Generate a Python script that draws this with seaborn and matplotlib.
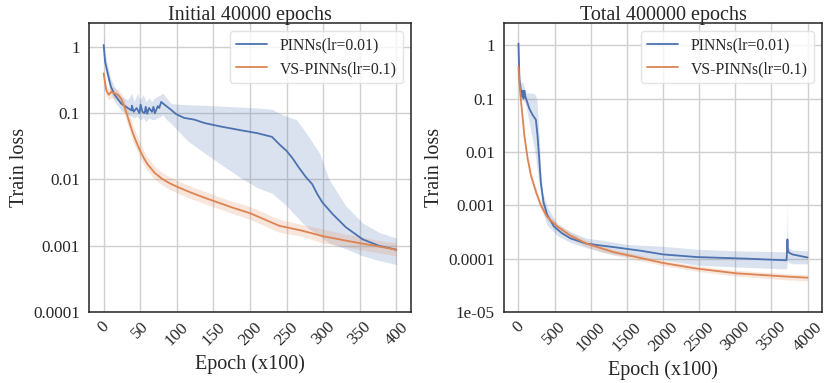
import numpy as np
import pandas as pd
import matplotlib
matplotlib.use("Agg")
import matplotlib.pyplot as plt
import seaborn as sns

# ---------------- data ----------------
titles = ["Initial 40000 epochs", "Total 400000 epochs"]
series_names = ["PINNs(lr=0.01)", "VS-PINNs(lr=0.1)"]

# Left panel (epoch x100, 0..400)
l_pinn_x = [0, 2, 6, 10, 15, 24, 33, 38, 38.6, 41, 45, 49, 50.5, 53, 56, 57.5, 59.5, 62, 66, 68, 70,
            74, 76, 78.6, 83, 92, 99, 110, 124, 138, 160, 185, 210, 230, 240, 250, 258, 267, 276,
            285, 292, 299, 313, 331, 354, 376, 400]
l_pinn_y = [1.07, 0.6, 0.38, 0.25, 0.19, 0.14, 0.12, 0.11, 0.13, 0.105, 0.12, 0.1, 0.135, 0.105, 0.1,
            0.125, 0.098, 0.12, 0.105, 0.125, 0.1, 0.128, 0.12, 0.148, 0.135, 0.113, 0.097, 0.085,
            0.08, 0.071, 0.063, 0.056, 0.05, 0.044, 0.034, 0.027, 0.021, 0.015, 0.011, 0.0085,
            0.006, 0.0045, 0.003, 0.0019, 0.00125, 0.001, 0.00087]
l_pinn_bx = [0, 2, 6, 10, 15, 24, 33, 38, 42, 46, 50, 54, 58, 62, 66, 70, 74, 78, 81, 86, 92, 101,
             115, 138, 160, 185, 210, 230, 240, 250, 263, 272, 281, 295, 308, 331, 354, 376, 400]
l_pinn_lo = [0.75, 0.45, 0.3, 0.2, 0.15, 0.11, 0.095, 0.09, 0.085, 0.09, 0.08, 0.085, 0.075, 0.085,
             0.08, 0.08, 0.085, 0.09, 0.095, 0.08, 0.07, 0.055, 0.038, 0.025, 0.017, 0.011, 0.0075,
             0.0062, 0.005, 0.004, 0.0028, 0.0022, 0.0018, 0.0014, 0.0011, 0.0009, 0.0007, 0.0006,
             0.00052]
l_pinn_hi = [1.6, 0.8, 0.5, 0.33, 0.25, 0.18, 0.16, 0.2, 0.15, 0.2, 0.16, 0.19, 0.15, 0.17, 0.15,
             0.17, 0.18, 0.19, 0.2, 0.17, 0.14, 0.137, 0.134, 0.132, 0.128, 0.124, 0.12, 0.115, 0.1,
             0.09, 0.08, 0.06, 0.043, 0.025, 0.01, 0.004, 0.0022, 0.0016, 0.0013]

l_vs_x = [0, 3.6, 7, 10.5, 15, 19.5, 24, 28, 32, 36, 40, 45, 50, 55, 60, 70, 80, 90, 101, 120, 138,
          175, 200, 240, 270, 299, 330, 349, 375, 400]
l_vs_y = [0.4, 0.22, 0.19, 0.21, 0.2, 0.19, 0.165, 0.13, 0.095, 0.068, 0.05, 0.036, 0.027, 0.021,
          0.017, 0.0125, 0.0102, 0.0088, 0.0077, 0.0063, 0.0053, 0.0038, 0.0031, 0.002, 0.0017,
          0.0014, 0.0012, 0.0011, 0.00098, 0.00087]
l_vs_lo = [0.33, 0.18, 0.16, 0.17, 0.165, 0.155, 0.13, 0.1, 0.072, 0.051, 0.038, 0.028, 0.021,
           0.0165, 0.0135, 0.01, 0.0082, 0.0071, 0.0062, 0.0051, 0.0043, 0.0031, 0.0025, 0.0016,
           0.0014, 0.0011, 0.00097, 0.00088, 0.00078, 0.0007]
l_vs_hi = [0.48, 0.26, 0.23, 0.25, 0.24, 0.23, 0.2, 0.165, 0.125, 0.09, 0.066, 0.047, 0.035, 0.027,
           0.0215, 0.0157, 0.0127, 0.011, 0.0096, 0.0078, 0.0066, 0.0047, 0.0039, 0.0025, 0.0021,
           0.0018, 0.0015, 0.0014, 0.0012, 0.0011]

# Right panel (epoch x100, 0..4000)
r_pinn_x = [0, 14, 36, 50, 59, 70, 82, 95, 105, 150, 196, 241, 264, 287, 309, 346, 400, 491, 600,
            719, 946, 1310, 1700, 2000, 2471, 3153, 3710, 3722, 3727, 3740, 3790, 4000]
r_pinn_y = [1.07, 0.22, 0.14, 0.11, 0.14, 0.1, 0.14, 0.11, 0.1, 0.065, 0.049, 0.04, 0.02, 0.0075,
            0.0027, 0.00115, 0.00065, 0.0004, 0.0003, 0.00024, 0.00019, 0.000165, 0.00014,
            0.00012, 0.000107, 0.0001, 0.000093, 0.00023, 0.00015, 0.00013, 0.00012, 0.000105]
r_pinn_bx = [0, 14, 36, 59, 82, 105, 127, 173, 218, 241, 255, 287, 309, 332, 400, 537, 719, 946,
             1174, 1500, 2000, 2471, 3000, 3710, 3722, 3727, 3740, 3790, 4000]
r_pinn_lo = [0.75, 0.15, 0.1, 0.09, 0.087, 0.07, 0.049, 0.024, 0.012, 0.0075, 0.005, 0.0027, 0.0015,
             0.00075, 0.00042, 0.00027, 0.0002, 0.00016, 0.00013, 0.00011, 0.000095, 0.000075,
             0.00007, 0.000064, 0.00009, 0.00009, 0.000085, 0.00008, 0.00008]
r_pinn_hi = [1.5, 0.3, 0.2, 0.2, 0.16, 0.13, 0.128, 0.126, 0.125, 0.11, 0.093, 0.02, 0.0049, 0.0018,
             0.00093, 0.00045, 0.00032, 0.00024, 0.00022, 0.000185, 0.00017, 0.00015, 0.00014,
             0.000134, 0.0012, 0.0002, 0.00016, 0.000145, 0.00014]

r_vs_x = [0, 14, 36, 59, 82, 127, 173, 241, 309, 400, 537, 719, 946, 1310, 2000, 2471, 3017, 3722,
          4000]
r_vs_y = [0.39, 0.19, 0.087, 0.042, 0.02, 0.0075, 0.0036, 0.0018, 0.001, 0.0006, 0.0004, 0.00027,
          0.00019, 0.000133, 0.000083, 0.000065, 0.000053, 0.000046, 0.000044]
r_vs_lo = [0.33, 0.16, 0.074, 0.036, 0.017, 0.0064, 0.0031, 0.00155, 0.00086, 0.00052, 0.00035,
           0.000235, 0.000165, 0.000117, 0.000074, 0.000058, 0.000047, 0.00004, 0.000038]
r_vs_hi = [0.46, 0.22, 0.1, 0.049, 0.023, 0.0087, 0.0042, 0.0021, 0.00116, 0.0007, 0.00046, 0.00031,
           0.00022, 0.00015, 0.000093, 0.000073, 0.00006, 0.000052, 0.00005]

l_yticks = [1, 0.1, 0.01, 0.001, 0.0001]
l_yticklabels = ["1", "0.1", "0.01", "0.001", "0.0001"]
r_yticks = [1, 0.1, 0.01, 0.001, 0.0001, 0.00001]
r_yticklabels = ["1", "0.1", "0.01", "0.001", "0.0001", "1e-05"]
l_xticks = [0, 50, 100, 150, 200, 250, 300, 350, 400]
r_xticks = [0, 500, 1000, 1500, 2000, 2500, 3000, 3500, 4000]

# ---------------- style ----------------
sns.set_theme(style="whitegrid")
plt.rcParams["font.family"] = ["Liberation Serif", "DejaVu Serif"]
plt.rcParams["axes.edgecolor"] = "#222222"
plt.rcParams["axes.linewidth"] = 1.1
plt.rcParams["grid.color"] = "#d0d0d0"

pal = sns.color_palette("deep")
c_blue, c_orange = pal[0], pal[1]

fig = plt.figure(figsize=(8.25, 3.83), dpi=100)
ax1 = fig.add_axes([89 / 825, 1 - 312 / 383, (411 - 89) / 825, (312 - 23) / 383])
ax2 = fig.add_axes([504 / 825, 1 - 312 / 383, (822 - 504) / 825, (312 - 23) / 383])

panels = [
    (ax1, (l_pinn_x, l_pinn_y, l_pinn_bx, l_pinn_lo, l_pinn_hi),
     (l_vs_x, l_vs_y, l_vs_lo, l_vs_hi), l_yticks, l_yticklabels, l_xticks, (1e-4, 2.3)),
    (ax2, (r_pinn_x, r_pinn_y, r_pinn_bx, r_pinn_lo, r_pinn_hi),
     (r_vs_x, r_vs_y, r_vs_lo, r_vs_hi), r_yticks, r_yticklabels, r_xticks, (1e-5, 2.6)),
]

for i, (ax, pinn, vs, yt, ytl, xt, ylim) in enumerate(panels):
    px, py, pbx, plo, phi = pinn
    vx, vy, vlo, vhi = vs
    ax.fill_between(pbx, plo, phi, color=c_blue, alpha=0.2, linewidth=0)
    ax.fill_between(vx, vlo, vhi, color=c_orange, alpha=0.2, linewidth=0)
    sns.lineplot(x=px, y=py, ax=ax, color=c_blue, linewidth=1.3, label=series_names[0])
    sns.lineplot(x=vx, y=vy, ax=ax, color=c_orange, linewidth=1.3, label=series_names[1])
    ax.set_yscale("log")
    ax.set_ylim(*ylim)
    ax.set_yticks(yt)
    ax.set_yticklabels(ytl)
    ax.minorticks_off()
    ax.set_xticks(xt)
    ax.set_xticklabels([str(t) for t in xt], rotation=45)
    ax.set_xlim(-0.05 * xt[-1], 1.05 * xt[-1])
    ax.tick_params(axis="both", labelsize=12.3, length=0)
    ax.tick_params(axis="y", pad=6.5)
    ax.tick_params(axis="x", pad=5)
    ax.set_xlabel("Epoch (x100)", fontsize=14.5, labelpad=4)
    ax.set_ylabel("Train loss", fontsize=14.5, labelpad=3)
    ax.set_title(titles[i], fontsize=14.5, pad=2)
    for s in ax.spines.values():
        s.set_color("#222222")
    leg = ax.legend(loc="upper right", fontsize=11.3, frameon=True, borderaxespad=0.5)
    leg.get_frame().set_edgecolor("#dddddd")

fig.savefig("out.png", dpi=100)
